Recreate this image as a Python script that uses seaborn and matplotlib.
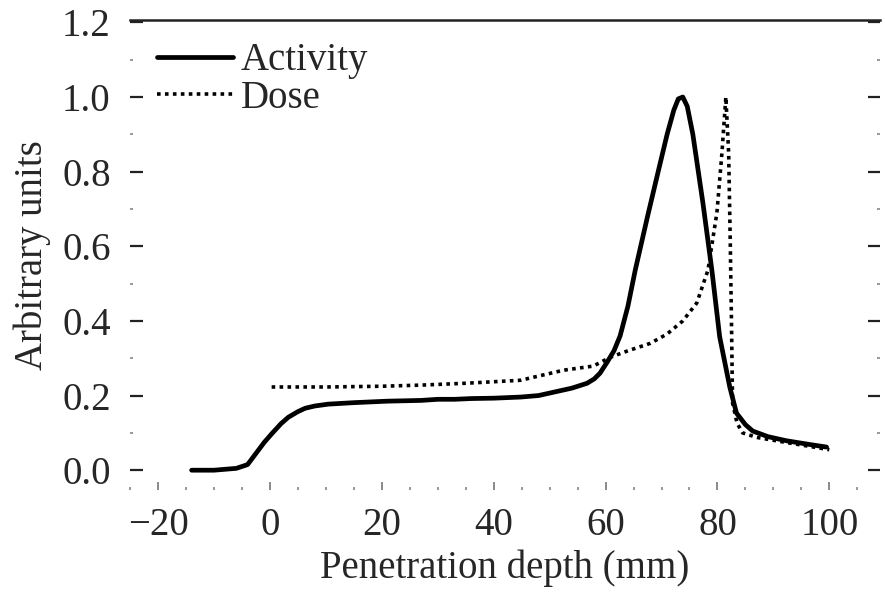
import matplotlib
matplotlib.use("Agg")
import matplotlib.pyplot as plt
import seaborn as sns
import numpy as np
import pandas as pd
from matplotlib.ticker import MultipleLocator

# ---- data ----
activity_depth = [-14, -10, -6, -4, -2.5, -1, 0.4, 2, 3.3, 5, 6.3, 8, 10.4, 15, 21, 27, 30, 33, 36, 40, 44.8,
                  48, 50.7, 54, 56.7, 58, 59, 60.3, 61.5, 62.6, 64, 65.3, 67.5, 69.4, 71, 72.2, 73, 73.8,
                  74.6, 75.6, 77.4, 79, 80.4, 82.2, 83.4, 85, 86.3, 89, 92.3, 96, 99.5]
activity_value = [0.0, 0.0, 0.005, 0.015, 0.045, 0.075, 0.099, 0.125, 0.142, 0.157, 0.166, 0.172, 0.177, 0.181,
                  0.185, 0.187, 0.19, 0.19, 0.192, 0.193, 0.196, 0.2, 0.209, 0.22, 0.233, 0.245, 0.26, 0.29,
                  0.32, 0.36, 0.44, 0.536, 0.68, 0.80, 0.9, 0.965, 0.995, 1.0, 0.975, 0.9, 0.716, 0.536,
                  0.357, 0.223, 0.153, 0.122, 0.105, 0.09, 0.079, 0.07, 0.062]

dose_depth = [0.3, 10, 20, 27, 35, 44.8, 52.5, 57.8, 60.9, 64, 68, 71, 73.8, 76.3, 78.3, 79.9, 80.8, 81.5,
              82.0, 82.3, 82.5, 82.7, 83.5, 84.5, 87, 92, 96, 100]
dose_value = [0.223, 0.223, 0.225, 0.228, 0.233, 0.241, 0.268, 0.279, 0.303, 0.32, 0.34, 0.365, 0.40,
              0.448, 0.536, 0.69, 0.85, 1.0, 0.85, 0.6, 0.4, 0.18, 0.126, 0.10, 0.088, 0.075, 0.065, 0.055]

x_ticks = [-20, 0, 20, 40, 60, 80, 100]
y_ticks = [0.0, 0.2, 0.4, 0.6, 0.8, 1.0, 1.2]
series_names = ["Activity", "Dose"]

sns.set_theme(style="white")
plt.rcParams['font.family'] = ['Liberation Serif', 'DejaVu Serif']

FS = 28

fig = plt.figure(figsize=(8.85, 5.99), dpi=100)
ax = fig.add_axes([0.147, 0.182, 0.847, 0.785])

df_a = pd.DataFrame({"x": activity_depth, "y": activity_value})
df_d = pd.DataFrame({"x": dose_depth, "y": dose_value})

sns.lineplot(data=df_a, x="x", y="y", ax=ax, color="black", linewidth=3.4,
             label=series_names[0], sort=False)
sns.lineplot(data=df_d, x="x", y="y", ax=ax, color="black", linewidth=2.6,
             linestyle=(0, (1, 1.2)), label=series_names[1], sort=False)

ax.set_xlim(-25, 109)
ax.set_ylim(-0.053, 1.207)
ax.set_xticks(x_ticks)
ax.set_yticks(y_ticks)
ax.set_xticklabels(["\u221220" if v < 0 else str(v) for v in x_ticks])
ax.set_yticklabels([f"{v:.1f}" for v in y_ticks])
ax.xaxis.set_minor_locator(MultipleLocator(5))
ax.yaxis.set_minor_locator(MultipleLocator(0.1))

for s in ["left", "bottom", "right"]:
    ax.spines[s].set_visible(False)
ax.spines["top"].set_visible(True)
ax.spines["top"].set_color("#222222")
ax.spines["top"].set_linewidth(1.8)

ax.tick_params(axis="y", which="major", direction="in", length=9, width=1.6, color="#222222",
               left=True, right=True, labelsize=FS, pad=14)
ax.tick_params(axis="y", which="minor", direction="in", length=2, width=1.2, color="#888888",
               left=True, right=True)
ax.tick_params(axis="x", which="major", direction="in", length=6, width=1.2, color="#777777",
               bottom=True, labelsize=FS, pad=12)
ax.tick_params(axis="x", which="minor", direction="in", length=2, width=1.2, color="#888888",
               bottom=True)

ax.set_xlabel("Penetration depth (mm)", fontsize=FS, labelpad=4)
ax.set_ylabel("Arbitrary units", fontsize=FS, labelpad=8)

leg = ax.legend(loc="upper left", bbox_to_anchor=(0.0, 1.01), frameon=False, fontsize=FS,
                handlelength=1.95, handletextpad=0.2, labelspacing=0.02, borderaxespad=0.3)

fig.savefig("out.png", dpi=100, facecolor="white")
